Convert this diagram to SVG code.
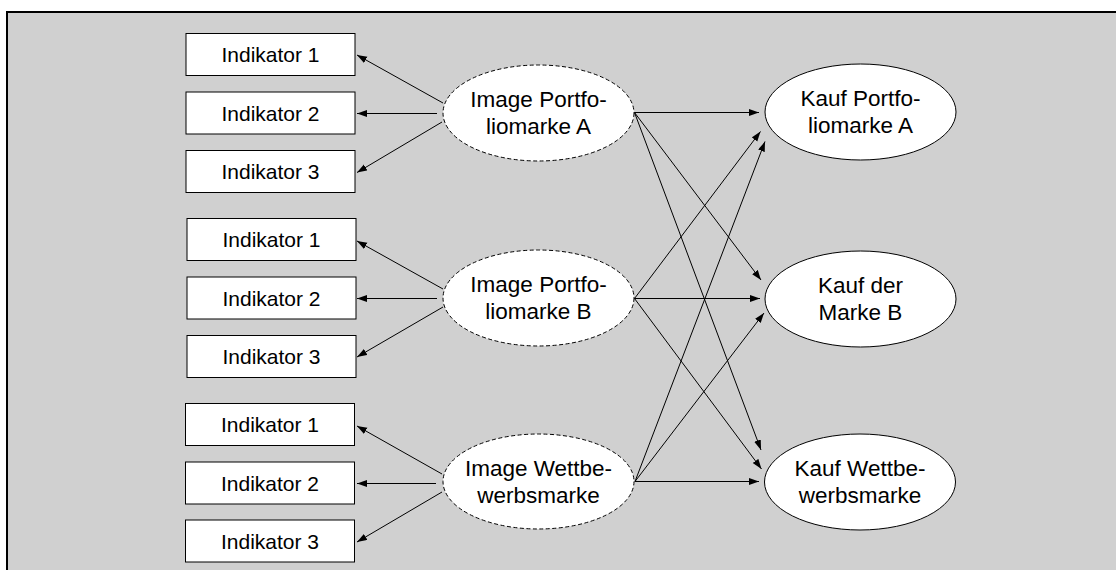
<svg xmlns="http://www.w3.org/2000/svg" width="1116" height="570" viewBox="0 0 1116 570">
<style>
.box{fill:#fff;stroke:#000;stroke-width:1}
.lat{fill:#fff;stroke:#000;stroke-width:1;stroke-dasharray:4 2.5}
.kauf{fill:#fff;stroke:#000;stroke-width:1}
.bt{font-family:"Liberation Sans",Arial,sans-serif;font-size:21px;text-anchor:middle;fill:#000}
.et{font-family:"Liberation Sans",Arial,sans-serif;font-size:22.5px;text-anchor:middle;fill:#000}
.c{stroke:#000;stroke-width:1;fill:none;marker-end:url(#ah)}
</style>
<defs>
<marker id="ah" markerUnits="userSpaceOnUse" markerWidth="11" markerHeight="8" refX="10" refY="3.5" orient="auto">
<path d="M0,0 L10,3.5 L0,7 z" fill="#000"/>
</marker>
</defs>
<rect x="7" y="12" width="1120" height="570" fill="#d0d0d0" stroke="#000" stroke-width="2"/>

<g id="connectors">
<line class="c" x1="443" y1="103" x2="357" y2="55"/>
<line class="c" x1="437" y1="113.5" x2="357" y2="113.5"/>
<line class="c" x1="442" y1="122" x2="357" y2="172.5"/>
<line class="c" x1="443" y1="289" x2="357" y2="241"/>
<line class="c" x1="437" y1="298.5" x2="357" y2="298.5"/>
<line class="c" x1="443" y1="307" x2="357" y2="357"/>
<line class="c" x1="442" y1="474" x2="357" y2="426"/>
<line class="c" x1="436" y1="483.5" x2="357" y2="483.5"/>
<line class="c" x1="442" y1="492" x2="357" y2="542"/>

<line class="c" x1="634.5" y1="112.5" x2="759" y2="112.5"/>
<line class="c" x1="634.5" y1="112.5" x2="761" y2="280"/>
<line class="c" x1="634.5" y1="112.5" x2="761" y2="450"/>
<line class="c" x1="634.5" y1="298.5" x2="760.5" y2="131.5"/>
<line class="c" x1="634.5" y1="298.5" x2="760" y2="298.5"/>
<line class="c" x1="634.5" y1="298.5" x2="761.5" y2="469"/>
<line class="c" x1="635" y1="481.5" x2="765" y2="141.5"/>
<line class="c" x1="635" y1="481.5" x2="764" y2="313"/>
<line class="c" x1="635" y1="481.5" x2="759" y2="481.5"/>
</g>

<g id="ind-a1"><rect class="box" x="186" y="33.5" width="169" height="42"/><text class="bt" x="270.5" y="62">Indikator 1</text></g>
<g id="ind-a2"><rect class="box" x="186" y="92" width="169" height="42"/><text class="bt" x="270.5" y="120.5">Indikator 2</text></g>
<g id="ind-a3"><rect class="box" x="186" y="150.5" width="169" height="42"/><text class="bt" x="270.5" y="179">Indikator 3</text></g>

<g id="ind-b1"><rect class="box" x="187" y="218.5" width="169" height="42"/><text class="bt" x="271.5" y="247">Indikator 1</text></g>
<g id="ind-b2"><rect class="box" x="187" y="277" width="169" height="42"/><text class="bt" x="271.5" y="305.5">Indikator 2</text></g>
<g id="ind-b3"><rect class="box" x="187" y="335.5" width="169" height="42"/><text class="bt" x="271.5" y="364">Indikator 3</text></g>

<g id="ind-c1"><rect class="box" x="185.5" y="403.5" width="169" height="42"/><text class="bt" x="270" y="432">Indikator 1</text></g>
<g id="ind-c2"><rect class="box" x="185.5" y="462" width="169" height="42"/><text class="bt" x="270" y="490.5">Indikator 2</text></g>
<g id="ind-c3"><rect class="box" x="185.5" y="520" width="169" height="42"/><text class="bt" x="270" y="548.5">Indikator 3</text></g>

<g id="image-a"><ellipse class="lat" cx="538.5" cy="113" rx="95.5" ry="48"/><text class="et" x="538.5" y="107">Image Portfo-</text><text class="et" x="538.5" y="134">liomarke A</text></g>
<g id="image-b"><ellipse class="lat" cx="538.5" cy="298" rx="95.5" ry="48"/><text class="et" x="538.5" y="292">Image Portfo-</text><text class="et" x="538.5" y="319">liomarke B</text></g>
<g id="image-c"><ellipse class="lat" cx="538.5" cy="481.5" rx="95.5" ry="47.5"/><text class="et" x="538.5" y="475.5">Image Wettbe-</text><text class="et" x="538.5" y="502.5">werbsmarke</text></g>

<g id="kauf-a"><ellipse class="kauf" cx="860.5" cy="112" rx="95.5" ry="48"/><text class="et" x="860.5" y="106">Kauf Portfo-</text><text class="et" x="860.5" y="133">liomarke A</text></g>
<g id="kauf-b"><ellipse class="kauf" cx="860.5" cy="299" rx="95.5" ry="48"/><text class="et" x="860.5" y="293">Kauf der</text><text class="et" x="860.5" y="320">Marke B</text></g>
<g id="kauf-w"><ellipse class="kauf" cx="860" cy="482" rx="95.5" ry="48"/><text class="et" x="860" y="476">Kauf Wettbe-</text><text class="et" x="860" y="503">werbsmarke</text></g>
</svg>
